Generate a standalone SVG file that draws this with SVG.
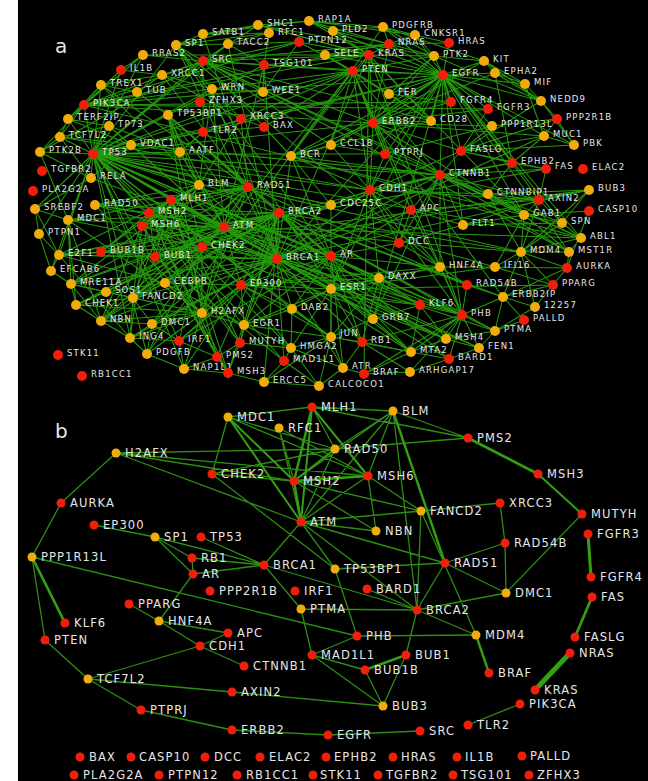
<svg xmlns="http://www.w3.org/2000/svg" xmlns:xlink="http://www.w3.org/1999/xlink" width="648" height="781" viewBox="0 0 648 781">
<style>
  .bg{fill:#000}
  .ea{fill:none;stroke:#25990c;stroke-width:1.05;stroke-linejoin:round;stroke-linecap:round}
  .eb{fill:none;stroke:#2c8e12;stroke-width:1.3;stroke-linecap:round}
  .ek{fill:none;stroke:#33a014;stroke-linecap:round}
  text{font-family:"DejaVu Sans",Verdana,sans-serif;fill:#e6e6e6}
  .ta{font-size:8.5px;letter-spacing:1.2px}
  .tb{font-size:11.5px;letter-spacing:1.1px}
  .pl{font-size:20px}
  .r{fill:#f01e0a}
  .o{fill:#f2ab0c}
</style>
<defs>
  <circle id="ra" r="5" class="r"/>
  <circle id="oa" r="5" class="o"/>
  <circle id="rb" r="4.5" class="r"/>
  <circle id="ob" r="4.5" class="o"/>
</defs>
<rect class="bg" x="18" y="0" width="630" height="781"/>
<text class="pl" x="55" y="53">a</text>
<text class="pl" x="55" y="438">b</text>

<!-- network a: connectors -->
<g id="edges-a">
<path class="ea" d="M277 259L224 227L279 213M93 154L224 227L202 247M76 305L224 227L202 313M68 220L224 227L101 321M71 284L224 227L95 205M168 115L224 227L199 185M171 200L224 227L149 213M142 226L224 227L133 298M248 187L224 227L581 238M521 252L224 227L59 255M241 285L224 227L331 256M331 289L224 227L212 89M180 152L224 227L91 178M131 145L224 227L462 315M165 283L224 227L546 169M440 175L224 227L264 65M353 71L224 227L106 292"/>
<path class="ea" d="M279 213L277 259L93 154M248 187L277 259L202 247M101 321L277 259L71 284M95 205L277 259L168 115M199 185L277 259L171 200M149 213L277 259L142 226M133 298L277 259L241 285M331 256L277 259L331 289M462 315L277 259L495 331M449 359L277 259L362 342M59 255L277 259L165 283M284 361L277 259L411 210M370 190L277 259L440 175M291 156L277 259L264 65M228 44L277 259L203 34M176 45L277 259L544 136M446 339L277 259L479 348M379 278L277 259L292 309M244 325L277 259L343 368M130 338L277 259L152 324M179 341L277 259L589 190M101 252L277 259L155 257M443 75L277 259L369 55"/>
<path class="ea" d="M248 187L279 213L93 154M133 298L279 213L152 324M331 205L279 213L202 313M101 321L279 213L168 115M462 315L279 213L495 331M411 352L279 213L217 357M228 373L279 213L240 343M373 319L279 213L521 252M59 255L279 213L101 252M155 257L279 213L449 359M76 305L279 213L71 284M95 205L279 213L68 220M331 256L279 213L241 285M165 283L279 213L264 382M503 297L279 213L467 285"/>
<path class="ea" d="M60 137L93 154L109 126M40 152L93 154L131 145M91 178L93 154L180 152M68 119L93 154L101 85M84 105L93 154L121 70M143 55L93 154L176 45M203 61L93 154L35 209M39 234L93 154L51 271M59 255L93 154L353 71M521 252L93 154L331 256M331 289L93 154L241 285M379 278L93 154L495 267M291 348L93 154L331 337M292 309L93 154L244 325M165 283L93 154L130 338M147 354L93 154L179 341M284 361L93 154L420 305M385 154L93 154L373 123M443 75L93 154L264 65M228 44L93 154L212 89M263 92L93 154L462 315M581 238L93 154L184 369M370 190L93 154L440 175M203 132L93 154L168 115M199 185L93 154L171 200M248 187L93 154"/>
<path class="ea" d="M434 56L443 75L484 61M495 73L443 75L525 84M451 102L443 75L488 109M373 123L443 75L431 121M492 126L443 75L389 94M353 71L443 75L369 55M389 44L443 75L203 61M84 105L443 75L383 27M415 35L443 75L333 31M258 25L443 75L309 21M541 101L443 75L544 136M574 145L443 75L461 151M512 163L443 75L440 175M370 190L443 75L524 215M562 223L443 75L463 225M581 238L443 75L569 252M373 319L443 75L331 289M291 156L443 75L331 145M385 154L443 75L203 132M325 55L443 75L449 43"/>
<path class="ea" d="M389 44L369 55L309 21M258 25L369 55L333 31M325 55L369 55L353 71M84 105L369 55L203 61M143 55L369 55L373 123M389 94L369 55L434 56M264 65L369 55L299 42M364 374L369 55L462 315M291 156L369 55L524 215M431 121L369 55"/>
<path class="ea" d="M299 42L353 71L264 65M84 105L353 71L373 123M389 94L353 71L263 92M325 55L353 71L291 156M331 145L353 71L370 190M411 210L353 71L385 154M434 56L353 71L203 61M241 119L353 71L264 127M462 315L353 71L440 175"/>
<path class="ea" d="M389 94L373 123L431 121M451 102L373 123L488 109M492 126L373 123L434 56M495 73L373 123L484 61M370 190L373 123L385 154M331 145L373 123L461 151M544 136L373 123L503 297M440 175L373 123L291 156M203 61L373 123L84 105M389 44L373 123L524 215"/>
<path class="ea" d="M370 190L440 175L411 210M488 194L440 175L539 200M461 151L440 175L512 163M546 169L440 175L524 215M463 225L440 175L385 154M60 137L440 175L291 156M331 205L440 175L373 319M440 267L440 175L462 315M581 238L440 175L569 252M562 223L440 175L399 243"/>
<path class="ea" d="M411 210L370 190L488 194M539 200L370 190L385 154M331 145L370 190L440 267M462 315L370 190L331 289M379 278L370 190L399 243M291 156L370 190L331 205M60 137L370 190L461 151M512 163L370 190"/>
<path class="ea" d="M331 289L331 256L379 278M241 285L331 256L292 309M331 337L331 256L362 342M420 305L331 256L440 267M462 315L331 256L411 210M291 156L331 256L343 368M373 319L331 256L244 325M179 341L331 256L168 115M176 45L331 256L399 243"/>
<path class="ea" d="M379 278L331 289L292 309M331 337L331 289L362 342M291 348L331 289L244 325M373 319L331 289L440 267M420 305L331 289L241 285M553 285L331 289L495 267M411 352L331 289L176 45"/>
<path class="ea" d="M199 185L248 187L171 200M149 213L248 187L142 226M95 205L248 187L68 220M133 298L248 187L152 324M241 119L248 187L162 75M168 115L248 187L101 85M467 285L248 187L202 313M101 321L248 187L71 284M212 89L248 187L331 205"/>
<path class="ea" d="M149 213L171 200L142 226M217 357L171 200L228 373M240 343L171 200L199 185M446 339L171 200L411 352M101 252L171 200L155 257M59 255L171 200L133 298M479 348L171 200L202 247"/>
<path class="ea" d="M142 226L149 213L217 357M228 373L149 213L240 343M446 339L149 213L101 252M155 257L149 213L199 185M130 338L149 213L95 205"/>
<path class="ea" d="M217 357L142 226L228 373M240 343L142 226L199 185M133 298L142 226L101 321M446 339L142 226"/>
<path class="ea" d="M168 115L202 247L68 220M202 313L202 247L101 252M155 257L202 247L331 205M59 255L202 247L241 285M179 341L202 247L147 354M76 305L202 247"/>
<path class="ea" d="M68 220L202 313L168 115M101 321L202 313L71 284M95 205L202 313L76 305M133 298L202 313L130 338M152 324L202 313L184 369M244 325L202 313"/>
<path class="ea" d="M143 55L203 61L176 45M258 25L203 61L299 42M84 105L203 61L291 156M331 145L203 61L431 121M40 152L203 61L524 215M581 238L203 61L569 252M389 44L203 61L228 44M162 75L203 61L203 132"/>
<path class="ea" d="M143 55L84 105L121 70M40 152L84 105L101 85M389 44L84 105L451 102M488 109L84 105L524 215M299 42L84 105L60 137M68 119L84 105"/>
<path class="ea" d="M415 35L389 44L449 43M383 27L389 44L434 56M309 21L389 44L333 31M325 55L389 44"/>
<path class="ea" d="M212 89L199 185L241 119M101 85L199 185L149 213M142 226L199 185L95 205M71 284L199 185L133 298M101 321L199 185L168 115M180 152L199 185"/>
<path class="ea" d="M35 209L68 220L101 321M76 305L68 220L71 284M40 152L68 220M101 252L59 255L155 257M39 234L59 255L35 209M51 271L59 255L130 338M165 283L59 255"/>
<path class="ea" d="M244 325L241 285L292 309M291 348L241 285L331 337M165 283L241 285L179 341M184 369L241 285L147 354M420 305L241 285L440 267M379 278L241 285"/>
<path class="ea" d="M291 348L331 337L343 368M362 342L331 337L373 319M292 309L331 337L244 325M411 352L331 337L319 386M264 382L331 337L379 278"/>
<path class="ea" d="M495 331L462 315L446 339M479 348L462 315L449 359M467 285L462 315L440 267M503 297L462 315L420 305M362 342L462 315L411 352M410 372L462 315L364 374"/>
<path class="ea" d="M569 252L521 252L562 223M581 238L521 252L524 215M495 267L521 252L567 268M553 285L521 252L503 297M535 307L521 252L589 190M539 200L521 252L488 194"/>
<path class="ea" d="M589 190L539 200L512 163M546 169L539 200L488 194M524 215L539 200L562 223M463 225L539 200L411 210"/>
<path class="ea" d="M512 163L461 151L546 169M544 136L461 151L574 145M488 109L461 151L492 126M557 119L461 151L541 101"/>
<path class="ea" d="M535 307L503 297L524 320M553 285L503 297L567 268M495 331L503 297L467 285"/>
<path class="ea" d="M364 374L343 368M364 374L410 372M364 374L411 352M284 361L291 348M284 361L264 382M284 361L319 386M284 361L155 257M155 257L101 252M155 257L589 190M101 252L589 190M385 154L492 126M176 45L258 25M176 45L269 33M176 45L203 34M176 45L228 44M176 45L440 267M203 34L258 25M203 34L269 33M203 34L309 21M258 25L309 21M258 25L434 56M309 21L333 31M309 21L383 27M309 21L415 35M333 31L383 27M383 27L415 35M383 27L434 56M383 27L147 354M383 27L484 61M415 35L449 43M415 35L434 56M484 61L495 73M484 61L434 56M484 61L541 101M484 61L525 84M495 73L525 84M495 73L541 101M495 73L512 163M525 84L541 101M525 84L544 136M541 101L574 145M541 101L557 119M541 101L434 56M557 119L544 136M557 119L574 145M557 119L492 126M431 121L325 55M431 121L389 94M431 121L291 156M389 94L434 56M389 94L451 102"/>
<path class="ea" d="M203 132L180 152M203 132L131 145M203 132L264 127M203 132L241 119M241 119L264 127M241 119L162 75M241 119L212 89M212 89L263 92M212 89L176 45M212 89L162 75M263 92L264 65M263 92L299 42M264 65L228 44M264 65L269 33M228 44L269 33M228 44L299 42M379 278L420 305M379 278L440 267M379 278L362 342M373 319L411 352M373 319L420 305M420 305L446 339M420 305L411 352M440 267L495 267M440 267L467 285M440 267L399 243M440 267L411 210M495 267L567 268M495 267L553 285M495 267L524 215M463 225L399 243M463 225L524 215M463 225L411 210M463 225L562 223M524 215L562 223M524 215L569 252M524 215L589 211M488 194L524 215M488 194L589 190M544 136L574 145M544 136L512 163M399 243L411 210M331 205L291 156M331 205L248 187M331 205L331 256M291 156L331 145M291 156L581 238M291 156L264 127M331 145L385 154"/>
<path class="ea" d="M91 178L60 137M91 178L40 152M91 178L131 145M91 178L35 209M131 145L180 152M131 145L109 126M131 145L68 119M180 152L109 126M180 152L168 115M68 119L101 85M68 119L109 126M68 119L60 137M60 137L40 152M60 137L109 126M121 70L143 55M121 70L162 75M101 85L137 92M101 85L162 75M137 92L162 75M137 92L168 115M35 209L39 234M39 234L51 271M51 271L71 284M71 284L106 292M71 284L76 305M71 284L101 321M106 292L133 298M106 292L165 283M106 292L76 305M76 305L101 321M76 305L133 298M101 321L130 338M101 321L152 324M133 298L165 283M133 298L152 324M133 298L130 338M165 283L202 313M165 283L244 325M152 324L147 354M152 324L130 338M152 324L179 341M130 338L147 354M130 338L179 341M147 354L184 369M179 341L184 369M179 341L217 357M184 369L217 357M184 369L228 373M217 357L228 373M217 357L240 343M228 373L264 382M228 373L240 343M240 343L244 325M240 343L291 348M244 325L292 309M244 325L291 348M292 309L291 348M292 309L331 337M291 348L319 386M291 348L343 368M264 382L319 386M319 386L343 368M343 368L362 342M362 342L411 352M362 342L410 372M411 352L446 339M411 352L449 359M410 372L449 359M449 359L479 348M479 348L495 331M479 348L446 339M446 339L495 331M495 331L524 320M495 331L535 307M553 285L567 268M553 285L535 307M567 268L569 252M567 268L589 211M562 223L581 238M562 223L589 190M581 238L569 252M512 163L546 169M512 163L488 194"/>
</g>

<!-- network a: nodes -->
<g id="nodes-a" class="ta">
<g id="a-SHC1"><use href="#oa" x="258" y="25"/><text x="267" y="26">SHC1</text></g>
<g id="a-RAP1A"><use href="#oa" x="309" y="21"/><text x="318" y="22">RAP1A</text></g>
<g id="a-SATB1"><use href="#oa" x="203" y="34"/><text x="212" y="35">SATB1</text></g>
<g id="a-RFC1"><use href="#oa" x="269" y="33"/><text x="278" y="35">RFC1</text></g>
<g id="a-PTPN12"><use href="#ra" x="299" y="42"/><text x="308" y="43">PTPN12</text></g>
<g id="a-PLD2"><use href="#oa" x="333" y="31"/><text x="342" y="32">PLD2</text></g>
<g id="a-PDGFRB"><use href="#oa" x="383" y="27"/><text x="392" y="28">PDGFRB</text></g>
<g id="a-CNKSR1"><use href="#oa" x="415" y="35"/><text x="424" y="36">CNKSR1</text></g>
<g id="a-HRAS"><use href="#ra" x="449" y="43"/><text x="458" y="44">HRAS</text></g>
<g id="a-SP1"><use href="#oa" x="176" y="45"/><text x="185" y="46">SP1</text></g>
<g id="a-TACC2"><use href="#oa" x="228" y="44"/><text x="237" y="45">TACC2</text></g>
<g id="a-SELE"><use href="#oa" x="325" y="55"/><text x="334" y="56">SELE</text></g>
<g id="a-KRAS"><use href="#ra" x="369" y="55"/><text x="378" y="56">KRAS</text></g>
<g id="a-NRAS"><use href="#ra" x="389" y="44"/><text x="398" y="45">NRAS</text></g>
<g id="a-PTK2"><use href="#oa" x="434" y="56"/><text x="443" y="57">PTK2</text></g>
<g id="a-KIT"><use href="#oa" x="484" y="61"/><text x="493" y="62">KIT</text></g>
<g id="a-RRAS2"><use href="#oa" x="143" y="55"/><text x="152" y="56">RRAS2</text></g>
<g id="a-SRC"><use href="#ra" x="203" y="61"/><text x="212" y="62">SRC</text></g>
<g id="a-TSG101"><use href="#ra" x="264" y="65"/><text x="273" y="66">TSG101</text></g>
<g id="a-EPHA2"><use href="#oa" x="495" y="73"/><text x="504" y="74">EPHA2</text></g>
<g id="a-IL1B"><use href="#ra" x="121" y="70"/><text x="130" y="71">IL1B</text></g>
<g id="a-XRCC1"><use href="#oa" x="162" y="75"/><text x="171" y="76">XRCC1</text></g>
<g id="a-PTEN"><use href="#ra" x="353" y="71"/><text x="362" y="72">PTEN</text></g>
<g id="a-EGFR"><use href="#ra" x="443" y="75"/><text x="452" y="76">EGFR</text></g>
<g id="a-MIF"><use href="#oa" x="525" y="84"/><text x="534" y="85">MIF</text></g>
<g id="a-TREX1"><use href="#oa" x="101" y="85"/><text x="110" y="86">TREX1</text></g>
<g id="a-TUB"><use href="#oa" x="137" y="92"/><text x="146" y="93">TUB</text></g>
<g id="a-WRN"><use href="#oa" x="212" y="89"/><text x="221" y="90">WRN</text></g>
<g id="a-WEE1"><use href="#oa" x="263" y="92"/><text x="272" y="93">WEE1</text></g>
<g id="a-FER"><use href="#oa" x="389" y="94"/><text x="398" y="95">FER</text></g>
<g id="a-NEDD9"><use href="#oa" x="541" y="101"/><text x="550" y="102">NEDD9</text></g>
<g id="a-PIK3CA"><use href="#ra" x="84" y="105"/><text x="93" y="106">PIK3CA</text></g>
<g id="a-ZFHX3"><use href="#ra" x="200" y="102"/><text x="209" y="103">ZFHX3</text></g>
<g id="a-FGFR4"><use href="#ra" x="451" y="102"/><text x="460" y="103">FGFR4</text></g>
<g id="a-FGFR3"><use href="#ra" x="488" y="109"/><text x="497" y="110">FGFR3</text></g>
<g id="a-PPP2R1B"><use href="#ra" x="557" y="119"/><text x="566" y="120">PPP2R1B</text></g>
<g id="a-TERF2IP"><use href="#oa" x="68" y="119"/><text x="77" y="120">TERF2IP</text></g>
<g id="a-TP53BP1"><use href="#oa" x="168" y="115"/><text x="177" y="116">TP53BP1</text></g>
<g id="a-XRCC3"><use href="#ra" x="241" y="119"/><text x="250" y="119">XRCC3</text></g>
<g id="a-BAX"><use href="#ra" x="264" y="127"/><text x="273" y="128">BAX</text></g>
<g id="a-ERBB2"><use href="#ra" x="373" y="123"/><text x="382" y="124">ERBB2</text></g>
<g id="a-CD28"><use href="#oa" x="431" y="121"/><text x="440" y="122">CD28</text></g>
<g id="a-PPP1R13L"><use href="#oa" x="492" y="126"/><text x="501" y="127">PPP1R13L</text></g>
<g id="a-TP73"><use href="#oa" x="109" y="126"/><text x="118" y="127">TP73</text></g>
<g id="a-TLR2"><use href="#ra" x="203" y="132"/><text x="212" y="133">TLR2</text></g>
<g id="a-TCF7L2"><use href="#oa" x="60" y="137"/><text x="69" y="138">TCF7L2</text></g>
<g id="a-MUC1"><use href="#oa" x="544" y="136"/><text x="553" y="137">MUC1</text></g>
<g id="a-PBK"><use href="#oa" x="574" y="145"/><text x="583" y="146">PBK</text></g>
<g id="a-PTK2B"><use href="#oa" x="40" y="152"/><text x="49" y="153">PTK2B</text></g>
<g id="a-TP53"><use href="#ra" x="93" y="154"/><text x="102" y="155">TP53</text></g>
<g id="a-VDAC1"><use href="#oa" x="131" y="145"/><text x="140" y="146">VDAC1</text></g>
<g id="a-AATF"><use href="#oa" x="180" y="152"/><text x="189" y="153">AATF</text></g>
<g id="a-BCR"><use href="#oa" x="291" y="156"/><text x="300" y="157">BCR</text></g>
<g id="a-CCL18"><use href="#oa" x="331" y="145"/><text x="340" y="146">CCL18</text></g>
<g id="a-PTPRJ"><use href="#ra" x="385" y="154"/><text x="394" y="155">PTPRJ</text></g>
<g id="a-FASLG"><use href="#ra" x="461" y="151"/><text x="470" y="152">FASLG</text></g>
<g id="a-EPHB2"><use href="#ra" x="512" y="163"/><text x="521" y="164">EPHB2</text></g>
<g id="a-FAS"><use href="#ra" x="546" y="169"/><text x="555" y="169">FAS</text></g>
<g id="a-ELAC2"><use href="#ra" x="583" y="169"/><text x="592" y="170">ELAC2</text></g>
<g id="a-TGFBR2"><use href="#ra" x="42" y="171"/><text x="51" y="172">TGFBR2</text></g>
<g id="a-RELA"><use href="#oa" x="91" y="178"/><text x="100" y="179">RELA</text></g>
<g id="a-CTNNB1"><use href="#ra" x="440" y="175"/><text x="449" y="176">CTNNB1</text></g>
<g id="a-PLA2G2A"><use href="#ra" x="33" y="191"/><text x="42" y="192">PLA2G2A</text></g>
<g id="a-BLM"><use href="#oa" x="199" y="185"/><text x="208" y="186">BLM</text></g>
<g id="a-RAD51"><use href="#ra" x="248" y="187"/><text x="257" y="188">RAD51</text></g>
<g id="a-CDH1"><use href="#ra" x="370" y="190"/><text x="379" y="191">CDH1</text></g>
<g id="a-CTNNBIP1"><use href="#oa" x="488" y="194"/><text x="497" y="195">CTNNBIP1</text></g>
<g id="a-BUB3"><use href="#oa" x="589" y="190"/><text x="598" y="191">BUB3</text></g>
<g id="a-AXIN2"><use href="#ra" x="539" y="200"/><text x="548" y="201">AXIN2</text></g>
<g id="a-CASP10"><use href="#ra" x="589" y="211"/><text x="598" y="212">CASP10</text></g>
<g id="a-SREBF2"><use href="#oa" x="35" y="209"/><text x="44" y="210">SREBF2</text></g>
<g id="a-RAD50"><use href="#oa" x="95" y="205"/><text x="104" y="206">RAD50</text></g>
<g id="a-MLH1"><use href="#ra" x="171" y="200"/><text x="180" y="201">MLH1</text></g>
<g id="a-MSH2"><use href="#ra" x="149" y="213"/><text x="158" y="214">MSH2</text></g>
<g id="a-BRCA2"><use href="#ra" x="279" y="213"/><text x="288" y="214">BRCA2</text></g>
<g id="a-CDC25C"><use href="#oa" x="331" y="205"/><text x="340" y="206">CDC25C</text></g>
<g id="a-APC"><use href="#ra" x="411" y="210"/><text x="420" y="211">APC</text></g>
<g id="a-GAB1"><use href="#oa" x="524" y="215"/><text x="533" y="216">GAB1</text></g>
<g id="a-SPN"><use href="#oa" x="562" y="223"/><text x="571" y="224">SPN</text></g>
<g id="a-MDC1"><use href="#oa" x="68" y="220"/><text x="77" y="221">MDC1</text></g>
<g id="a-MSH6"><use href="#ra" x="142" y="226"/><text x="151" y="227">MSH6</text></g>
<g id="a-ATM"><use href="#ra" x="224" y="227"/><text x="233" y="228">ATM</text></g>
<g id="a-FLT1"><use href="#oa" x="463" y="225"/><text x="472" y="226">FLT1</text></g>
<g id="a-ABL1"><use href="#oa" x="581" y="238"/><text x="590" y="239">ABL1</text></g>
<g id="a-PTPN1"><use href="#oa" x="39" y="234"/><text x="48" y="235">PTPN1</text></g>
<g id="a-CHEK2"><use href="#ra" x="202" y="247"/><text x="211" y="248">CHEK2</text></g>
<g id="a-DCC"><use href="#ra" x="399" y="243"/><text x="408" y="244">DCC</text></g>
<g id="a-MDM4"><use href="#oa" x="521" y="252"/><text x="530" y="253">MDM4</text></g>
<g id="a-MST1R"><use href="#oa" x="569" y="252"/><text x="578" y="253">MST1R</text></g>
<g id="a-E2F1"><use href="#oa" x="59" y="255"/><text x="68" y="256">E2F1</text></g>
<g id="a-BUB1B"><use href="#ra" x="101" y="252"/><text x="110" y="253">BUB1B</text></g>
<g id="a-BUB1"><use href="#ra" x="155" y="257"/><text x="164" y="258">BUB1</text></g>
<g id="a-BRCA1"><use href="#ra" x="277" y="259"/><text x="286" y="260">BRCA1</text></g>
<g id="a-AR"><use href="#ra" x="331" y="256"/><text x="340" y="257">AR</text></g>
<g id="a-HNF4A"><use href="#oa" x="440" y="267"/><text x="449" y="268">HNF4A</text></g>
<g id="a-IFI16"><use href="#oa" x="495" y="267"/><text x="504" y="268">IFI16</text></g>
<g id="a-AURKA"><use href="#ra" x="567" y="268"/><text x="576" y="269">AURKA</text></g>
<g id="a-EFCAB6"><use href="#oa" x="51" y="271"/><text x="60" y="272">EFCAB6</text></g>
<g id="a-CEBPB"><use href="#oa" x="165" y="283"/><text x="174" y="284">CEBPB</text></g>
<g id="a-EP300"><use href="#ra" x="241" y="285"/><text x="250" y="286">EP300</text></g>
<g id="a-DAXX"><use href="#oa" x="379" y="278"/><text x="388" y="279">DAXX</text></g>
<g id="a-MRE11A"><use href="#oa" x="71" y="284"/><text x="80" y="285">MRE11A</text></g>
<g id="a-SOS1"><use href="#oa" x="106" y="292"/><text x="115" y="293">SOS1</text></g>
<g id="a-FANCD2"><use href="#oa" x="133" y="298"/><text x="142" y="299">FANCD2</text></g>
<g id="a-ESR1"><use href="#oa" x="331" y="289"/><text x="340" y="290">ESR1</text></g>
<g id="a-RAD54B"><use href="#ra" x="467" y="285"/><text x="476" y="286">RAD54B</text></g>
<g id="a-PPARG"><use href="#ra" x="553" y="285"/><text x="562" y="286">PPARG</text></g>
<g id="a-CHEK1"><use href="#oa" x="76" y="305"/><text x="85" y="306">CHEK1</text></g>
<g id="a-ERBB2IP"><use href="#oa" x="503" y="297"/><text x="512" y="297">ERBB2IP</text></g>
<g id="a-12257"><use href="#oa" x="535" y="307"/><text x="544" y="308">12257</text></g>
<g id="a-NBN"><use href="#oa" x="101" y="321"/><text x="110" y="322">NBN</text></g>
<g id="a-H2AFX"><use href="#oa" x="202" y="313"/><text x="211" y="314">H2AFX</text></g>
<g id="a-DAB2"><use href="#oa" x="292" y="309"/><text x="301" y="310">DAB2</text></g>
<g id="a-KLF6"><use href="#ra" x="420" y="305"/><text x="429" y="306">KLF6</text></g>
<g id="a-ING4"><use href="#oa" x="130" y="338"/><text x="139" y="339">ING4</text></g>
<g id="a-DMC1"><use href="#oa" x="152" y="324"/><text x="161" y="325">DMC1</text></g>
<g id="a-EGR1"><use href="#oa" x="244" y="325"/><text x="253" y="326">EGR1</text></g>
<g id="a-GRB7"><use href="#oa" x="373" y="319"/><text x="382" y="320">GRB7</text></g>
<g id="a-PHB"><use href="#ra" x="462" y="315"/><text x="471" y="316">PHB</text></g>
<g id="a-PALLD"><use href="#ra" x="524" y="320"/><text x="533" y="321">PALLD</text></g>
<g id="a-IRF1"><use href="#ra" x="179" y="341"/><text x="188" y="342">IRF1</text></g>
<g id="a-JUN"><use href="#oa" x="331" y="337"/><text x="340" y="336">JUN</text></g>
<g id="a-PTMA"><use href="#oa" x="495" y="331"/><text x="504" y="332">PTMA</text></g>
<g id="a-STK11"><use href="#ra" x="58" y="355"/><text x="67" y="356">STK11</text></g>
<g id="a-PDGFB"><use href="#oa" x="147" y="354"/><text x="156" y="355">PDGFB</text></g>
<g id="a-MUTYH"><use href="#ra" x="240" y="343"/><text x="249" y="344">MUTYH</text></g>
<g id="a-HMGA2"><use href="#oa" x="291" y="348"/><text x="300" y="349">HMGA2</text></g>
<g id="a-RB1"><use href="#ra" x="362" y="342"/><text x="371" y="343">RB1</text></g>
<g id="a-MSH4"><use href="#oa" x="446" y="339"/><text x="455" y="340">MSH4</text></g>
<g id="a-FEN1"><use href="#oa" x="479" y="348"/><text x="488" y="349">FEN1</text></g>
<g id="a-PMS2"><use href="#ra" x="217" y="357"/><text x="226" y="358">PMS2</text></g>
<g id="a-MAD1L1"><use href="#ra" x="284" y="361"/><text x="293" y="362">MAD1L1</text></g>
<g id="a-MTA2"><use href="#oa" x="411" y="352"/><text x="420" y="353">MTA2</text></g>
<g id="a-NAP1L1"><use href="#oa" x="184" y="369"/><text x="193" y="370">NAP1L1</text></g>
<g id="a-MSH3"><use href="#ra" x="228" y="373"/><text x="237" y="374">MSH3</text></g>
<g id="a-ATR"><use href="#oa" x="343" y="368"/><text x="352" y="369">ATR</text></g>
<g id="a-BRAF"><use href="#ra" x="364" y="374"/><text x="373" y="375">BRAF</text></g>
<g id="a-BARD1"><use href="#ra" x="449" y="359"/><text x="458" y="360">BARD1</text></g>
<g id="a-ARHGAP17"><use href="#oa" x="410" y="372"/><text x="419" y="373">ARHGAP17</text></g>
<g id="a-RB1CC1"><use href="#ra" x="82" y="376"/><text x="91" y="377">RB1CC1</text></g>
<g id="a-ERCC5"><use href="#oa" x="264" y="382"/><text x="273" y="383">ERCC5</text></g>
<g id="a-CALCOCO1"><use href="#oa" x="319" y="386"/><text x="328" y="387">CALCOCO1</text></g>
</g>

<!-- network b: connectors -->
<g id="edges-b">
<path class="eb" d="M116 453L61 503M61 503L32 557M32 557L45 640M32 557L357 636M116 453L335 449M116 453L368 476M116 453L294 481M116 453L301 522M228 417L212 474M228 417L368 476M228 417L335 449M228 417L312 407M279 428L294 481M279 428L368 476M279 428L301 522M312 407L393 411M312 407L468 438M312 407L335 449M212 474L294 481M212 474L335 569M212 474L335 449M294 481L393 411M294 481L421 511M294 481L376 531M368 476L393 411M368 476L421 511M368 476L376 531M368 476L301 522M335 449L393 411M335 449L468 438M335 449L301 522M393 411L468 438M393 411L417 610M393 411L301 522M582 514L506 593M421 511L500 503M421 511L301 522M421 511L417 610M421 511L476 635M500 503L505 543M505 543L445 563M505 543L506 593M445 563L506 593M445 563L335 569M445 563L417 610M445 563L301 522M376 531L301 522M335 569L301 522M335 569L357 636M506 593L417 610M367 589L417 610M264 565L417 610M264 565L301 609M301 522L264 565M301 522L417 610"/>
<path class="eb" d="M94 525L155 537M155 537L192 558M155 537L193 574M155 537L264 565M201 537L264 565M192 558L193 574M192 558L264 565M193 574L264 565M193 574L159 621M129 604L159 621M159 621L228 633M159 621L200 646M200 646L228 633M200 646L244 666M200 646L88 679M45 640L88 679M88 679L232 692M88 679L141 710M141 710L232 730M232 730L328 735M328 735L420 731M468 725L520 704M232 692L383 706M312 655L383 706M312 655L365 670M312 655L357 636M357 636L476 635M406 655L383 706M365 670L383 706M406 655L417 610M476 635L417 610M301 609L417 610M301 609L312 655"/>
<path class="ek" stroke-width="2" d="M312 407L301 522M312 407L368 476M294 481L335 449M228 417L301 522M228 417L294 481M582 514L538 474"/>
<path class="ek" stroke-width="2.4" d="M312 407L294 481M294 481L368 476M294 481L301 522M393 411L445 563M476 635L489 673M365 670L406 655"/>
<path class="ek" stroke-width="2.7" d="M468 438L538 474M32 557L65 623M575 637L592 597"/>
<path class="ek" stroke-width="3" d="M588 534L591 577"/>
<path class="ek" stroke-width="5" d="M570 653L535 690"/>
</g>

<!-- network b: nodes -->
<g id="nodes-b" class="tb">
<g id="b-MLH1"><use href="#rb" x="312" y="407"/><text x="321" y="411">MLH1</text></g>
<g id="b-MDC1"><use href="#ob" x="228" y="417"/><text x="237" y="421">MDC1</text></g>
<g id="b-RFC1"><use href="#ob" x="279" y="428"/><text x="288" y="432">RFC1</text></g>
<g id="b-BLM"><use href="#ob" x="393" y="411"/><text x="402" y="415">BLM</text></g>
<g id="b-PMS2"><use href="#rb" x="468" y="438"/><text x="477" y="442">PMS2</text></g>
<g id="b-RAD50"><use href="#ob" x="335" y="449"/><text x="344" y="453">RAD50</text></g>
<g id="b-H2AFX"><use href="#ob" x="116" y="453"/><text x="125" y="457">H2AFX</text></g>
<g id="b-CHEK2"><use href="#rb" x="212" y="474"/><text x="221" y="478">CHEK2</text></g>
<g id="b-MSH2"><use href="#rb" x="294" y="481"/><text x="303" y="485">MSH2</text></g>
<g id="b-MSH6"><use href="#rb" x="368" y="476"/><text x="377" y="480">MSH6</text></g>
<g id="b-MSH3"><use href="#rb" x="538" y="474"/><text x="547" y="478">MSH3</text></g>
<g id="b-AURKA"><use href="#rb" x="61" y="503"/><text x="70" y="507">AURKA</text></g>
<g id="b-XRCC3"><use href="#rb" x="500" y="503"/><text x="509" y="507">XRCC3</text></g>
<g id="b-FANCD2"><use href="#ob" x="421" y="511"/><text x="430" y="515">FANCD2</text></g>
<g id="b-MUTYH"><use href="#rb" x="582" y="514"/><text x="591" y="518">MUTYH</text></g>
<g id="b-ATM"><use href="#rb" x="301" y="522"/><text x="310" y="526">ATM</text></g>
<g id="b-EP300"><use href="#rb" x="94" y="525"/><text x="103" y="529">EP300</text></g>
<g id="b-NBN"><use href="#ob" x="376" y="531"/><text x="385" y="535">NBN</text></g>
<g id="b-FGFR3"><use href="#rb" x="588" y="534"/><text x="597" y="538">FGFR3</text></g>
<g id="b-SP1"><use href="#ob" x="155" y="537"/><text x="164" y="541">SP1</text></g>
<g id="b-TP53"><use href="#rb" x="201" y="537"/><text x="210" y="541">TP53</text></g>
<g id="b-RAD54B"><use href="#rb" x="505" y="543"/><text x="514" y="547">RAD54B</text></g>
<g id="b-PPP1R13L"><use href="#ob" x="32" y="557"/><text x="41" y="561">PPP1R13L</text></g>
<g id="b-RB1"><use href="#rb" x="192" y="558"/><text x="201" y="562">RB1</text></g>
<g id="b-RAD51"><use href="#rb" x="445" y="563"/><text x="454" y="567">RAD51</text></g>
<g id="b-BRCA1"><use href="#rb" x="264" y="565"/><text x="273" y="569">BRCA1</text></g>
<g id="b-TP53BP1"><use href="#ob" x="335" y="569"/><text x="344" y="573">TP53BP1</text></g>
<g id="b-AR"><use href="#rb" x="193" y="574"/><text x="202" y="578">AR</text></g>
<g id="b-FGFR4"><use href="#rb" x="591" y="577"/><text x="600" y="581">FGFR4</text></g>
<g id="b-BARD1"><use href="#rb" x="367" y="589"/><text x="376" y="593">BARD1</text></g>
<g id="b-PPP2R1B"><use href="#rb" x="210" y="591"/><text x="219" y="595">PPP2R1B</text></g>
<g id="b-IRF1"><use href="#rb" x="295" y="591"/><text x="304" y="595">IRF1</text></g>
<g id="b-DMC1"><use href="#ob" x="506" y="593"/><text x="515" y="597">DMC1</text></g>
<g id="b-FAS"><use href="#rb" x="592" y="597"/><text x="601" y="601">FAS</text></g>
<g id="b-PPARG"><use href="#rb" x="129" y="604"/><text x="138" y="608">PPARG</text></g>
<g id="b-PTMA"><use href="#ob" x="301" y="609"/><text x="310" y="613">PTMA</text></g>
<g id="b-BRCA2"><use href="#rb" x="417" y="610"/><text x="426" y="614">BRCA2</text></g>
<g id="b-HNF4A"><use href="#ob" x="159" y="621"/><text x="168" y="625">HNF4A</text></g>
<g id="b-KLF6"><use href="#rb" x="65" y="623"/><text x="74" y="627">KLF6</text></g>
<g id="b-APC"><use href="#rb" x="228" y="633"/><text x="237" y="637">APC</text></g>
<g id="b-MDM4"><use href="#ob" x="476" y="635"/><text x="485" y="639">MDM4</text></g>
<g id="b-PHB"><use href="#rb" x="357" y="636"/><text x="366" y="640">PHB</text></g>
<g id="b-FASLG"><use href="#rb" x="575" y="637"/><text x="584" y="641">FASLG</text></g>
<g id="b-PTEN"><use href="#rb" x="45" y="640"/><text x="54" y="644">PTEN</text></g>
<g id="b-CDH1"><use href="#rb" x="200" y="646"/><text x="209" y="650">CDH1</text></g>
<g id="b-NRAS"><use href="#rb" x="570" y="653"/><text x="579" y="657">NRAS</text></g>
<g id="b-MAD1L1"><use href="#rb" x="312" y="655"/><text x="321" y="659">MAD1L1</text></g>
<g id="b-BUB1"><use href="#rb" x="406" y="655"/><text x="415" y="659">BUB1</text></g>
<g id="b-CTNNB1"><use href="#rb" x="244" y="666"/><text x="253" y="670">CTNNB1</text></g>
<g id="b-BUB1B"><use href="#rb" x="365" y="670"/><text x="374" y="674">BUB1B</text></g>
<g id="b-BRAF"><use href="#rb" x="489" y="673"/><text x="498" y="677">BRAF</text></g>
<g id="b-TCF7L2"><use href="#ob" x="88" y="679"/><text x="97" y="683">TCF7L2</text></g>
<g id="b-KRAS"><use href="#rb" x="535" y="690"/><text x="544" y="694">KRAS</text></g>
<g id="b-AXIN2"><use href="#rb" x="232" y="692"/><text x="241" y="696">AXIN2</text></g>
<g id="b-PIK3CA"><use href="#rb" x="520" y="704"/><text x="529" y="708">PIK3CA</text></g>
<g id="b-BUB3"><use href="#ob" x="383" y="706"/><text x="392" y="710">BUB3</text></g>
<g id="b-PTPRJ"><use href="#rb" x="141" y="710"/><text x="150" y="714">PTPRJ</text></g>
<g id="b-TLR2"><use href="#rb" x="468" y="725"/><text x="477" y="729">TLR2</text></g>
<g id="b-ERBB2"><use href="#rb" x="232" y="730"/><text x="241" y="734">ERBB2</text></g>
<g id="b-SRC"><use href="#rb" x="420" y="731"/><text x="429" y="735">SRC</text></g>
<g id="b-EGFR"><use href="#rb" x="328" y="735"/><text x="337" y="739">EGFR</text></g>
<!-- unconnected genes -->
<g id="b-BAX"><use href="#rb" x="80" y="757"/><text x="89" y="761">BAX</text></g>
<g id="b-CASP10"><use href="#rb" x="131" y="757"/><text x="139" y="761">CASP10</text></g>
<g id="b-DCC"><use href="#rb" x="205" y="757"/><text x="214" y="761">DCC</text></g>
<g id="b-ELAC2"><use href="#rb" x="260" y="757"/><text x="269" y="761">ELAC2</text></g>
<g id="b-EPHB2"><use href="#rb" x="326" y="757"/><text x="334" y="761">EPHB2</text></g>
<g id="b-HRAS"><use href="#rb" x="393" y="757"/><text x="401" y="761">HRAS</text></g>
<g id="b-IL1B"><use href="#rb" x="457" y="757"/><text x="465" y="761">IL1B</text></g>
<g id="b-PALLD"><use href="#rb" x="522" y="756"/><text x="530" y="760">PALLD</text></g>
<g id="b-PLA2G2A"><use href="#rb" x="74" y="775"/><text x="83" y="779">PLA2G2A</text></g>
<g id="b-PTPN12"><use href="#rb" x="159" y="775"/><text x="168" y="779">PTPN12</text></g>
<g id="b-RB1CC1"><use href="#rb" x="237" y="775"/><text x="246" y="779">RB1CC1</text></g>
<g id="b-STK11"><use href="#rb" x="313" y="775"/><text x="320" y="779">STK11</text></g>
<g id="b-TGFBR2"><use href="#rb" x="378" y="775"/><text x="386" y="779">TGFBR2</text></g>
<g id="b-TSG101"><use href="#rb" x="453" y="775"/><text x="461" y="779">TSG101</text></g>
<g id="b-ZFHX3"><use href="#rb" x="529" y="775"/><text x="537" y="779">ZFHX3</text></g>
</g>
</svg>
